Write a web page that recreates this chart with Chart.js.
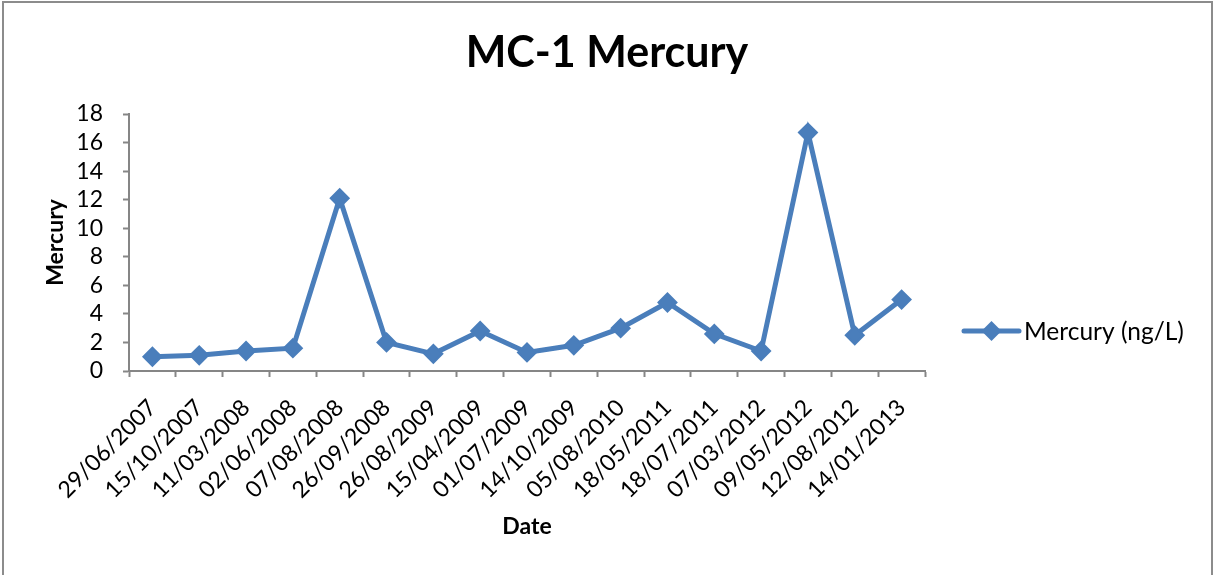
<!DOCTYPE html>
<html>
<head>
<meta charset="utf-8">
<title>MC-1 Mercury</title>
<script src="https://cdn.jsdelivr.net/npm/chart.js@4.4.1/dist/chart.umd.min.js"></script>
<style>
    html, body { margin: 0; padding: 0; background: #ffffff; }
    #wrap { width: 1214px; height: 575px; position: relative; }
</style>
</head>
<body>
<div id="wrap"><canvas id="chart" width="1214" height="575"></canvas></div>
<script>
// sample dates (x axis)
const sampleDates = [
    '29/06/2007', '15/10/2007', '11/03/2008', '02/06/2008', '07/08/2008',
    '26/09/2008', '26/08/2009', '15/04/2009', '01/07/2009', '14/10/2009',
    '05/08/2010', '18/05/2011', '18/07/2011', '07/03/2012', '09/05/2012',
    '12/08/2012', '14/01/2013'
];

// mercury readings, ng/L
const mercuryValues = [
    1.0, 1.1, 1.4, 1.6, 12.1,
    2.0, 1.2, 2.8, 1.3, 1.8,
    3.0, 4.8, 2.6, 1.4, 16.7,
    2.5, 5.0
];

const chartTitle = 'MC-1 Mercury';
const seriesLabel = 'Mercury (ng/L)';
const yTicks = [0, 2, 4, 6, 8, 10, 12, 14, 16, 18];

const lineColor = '#4a7ebb';
const axisColor = '#868686';
const fontFamily = 'Lato, "Open Sans", sans-serif';

// frame around the whole picture + page title (centred on the page, not the plot)
const framePlugin = {
    id: 'frame',
    beforeDraw(chart) {
        const ctx = chart.ctx;
        ctx.save();
        ctx.fillStyle = '#ffffff';
        ctx.fillRect(0, 0, chart.width, chart.height);
        ctx.strokeStyle = '#8c8c8c';
        ctx.lineWidth = 2;
        ctx.beginPath();
        ctx.moveTo(3, chart.height + 5);
        ctx.lineTo(3, 2);
        ctx.lineTo(1212, 2);
        ctx.lineTo(1212, chart.height + 5);
        ctx.stroke();
        ctx.restore();
    },
    afterDraw(chart) {
        const ctx = chart.ctx;
        ctx.save();
        ctx.fillStyle = '#000000';
        ctx.font = 'bold 43px ' + fontFamily;
        ctx.textAlign = 'center';
        ctx.textBaseline = 'alphabetic';
        ctx.fillText(chartTitle, 607, 67);
        ctx.restore();
    }
};

// legend drawn in the right margin, like the original
const sideLegend = {
    id: 'sideLegend',
    afterDraw(chart) {
        const ctx = chart.ctx;
        const ds = chart.data.datasets[0];
        const y = 331;
        const x0 = 964, x1 = 1019;
        ctx.save();
        ctx.strokeStyle = ds.borderColor;
        ctx.lineWidth = 5;
        ctx.lineCap = 'round';
        ctx.beginPath();
        ctx.moveTo(x0, y);
        ctx.lineTo(x1, y);
        ctx.stroke();
        const cx = (x0 + x1) / 2;
        ctx.fillStyle = ds.backgroundColor;
        ctx.beginPath();
        ctx.moveTo(cx - 10, y);
        ctx.lineTo(cx, y - 10);
        ctx.lineTo(cx + 10, y);
        ctx.lineTo(cx, y + 10);
        ctx.closePath();
        ctx.fill();
        ctx.fillStyle = '#000000';
        ctx.font = '24.5px ' + fontFamily;
        ctx.textBaseline = 'middle';
        ctx.textAlign = 'left';
        ctx.fillText(ds.label, 1024, y + 1);
        ctx.restore();
    }
};

const chart = new Chart(document.getElementById('chart'), {
    type: 'line',
    data: {
        labels: sampleDates,
        datasets: [{
            label: seriesLabel,
            data: mercuryValues,
            borderColor: lineColor,
            backgroundColor: lineColor,
            borderWidth: 5,
            pointStyle: 'rectRot',
            pointRadius: 9,
            pointBorderWidth: 2,
            pointBackgroundColor: lineColor,
            pointBorderColor: lineColor,
            tension: 0
        }]
    },
    options: {
        responsive: false,
        animation: false,
        layout: {
            padding: { top: 114, left: 30, right: 289, bottom: 20 }
        },
        plugins: {
            legend: { display: false },
            tooltip: { enabled: false },
            title: { display: false }
        },
        scales: {
            x: {
                type: 'category',
                offset: true,
                grid: {
                    offset: true,
                    drawOnChartArea: false,
                    drawTicks: true,
                    tickLength: 6,
                    tickColor: axisColor,
                    tickWidth: 2
                },
                border: { color: axisColor, width: 2 },
                ticks: {
                    color: '#000000',
                    font: { family: fontFamily, size: 23 },
                    maxRotation: 45,
                    minRotation: 45,
                    autoSkip: false,
                    padding: 17
                },
                title: {
                    display: true,
                    text: 'Date',
                    color: '#000000',
                    font: { family: fontFamily, size: 23, weight: 'bold', lineHeight: 1.2 },
                    padding: { top: 0, bottom: 15 }
                },
                afterFit(scale) { scale.height = 184; }
            },
            y: {
                min: 0,
                max: 18,
                afterBuildTicks(scale) {
                    scale.ticks = yTicks.map(v => ({ value: v }));
                },
                grid: {
                    drawOnChartArea: false,
                    drawTicks: true,
                    tickLength: 6,
                    tickColor: axisColor,
                    tickWidth: 2
                },
                border: { color: axisColor, width: 2 },
                ticks: {
                    color: '#000000',
                    font: { family: fontFamily, size: 23 },
                    autoSkip: false,
                    padding: 20
                },
                title: {
                    display: true,
                    text: 'Mercury',
                    color: '#000000',
                    font: { family: fontFamily, size: 23, weight: 'bold', lineHeight: 1.2 },
                    padding: { top: 12, bottom: 0 }
                },
                afterFit(scale) { scale.width = 99; }
            }
        }
    },
    plugins: [framePlugin, sideLegend]
});
</script>
</body>
</html>
